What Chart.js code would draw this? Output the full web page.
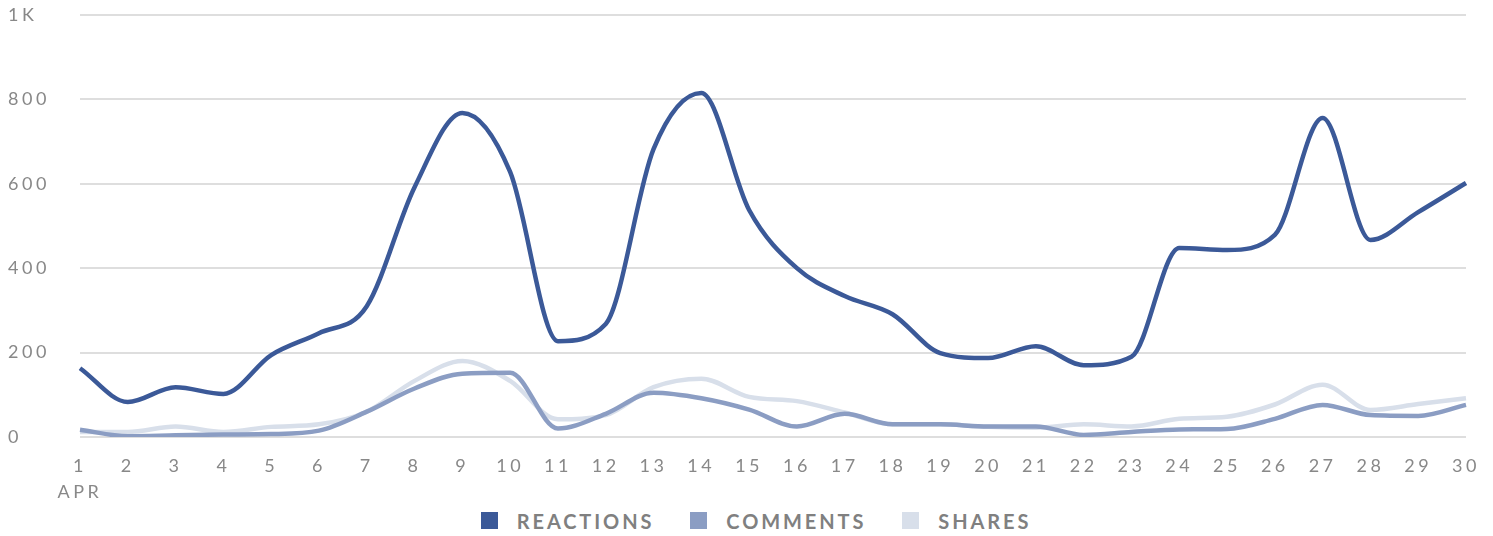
<!DOCTYPE html>
<html>
<head>
<meta charset="utf-8">
<script src="https://cdn.jsdelivr.net/npm/chart.js@4"></script>
<style>
  html, body { margin: 0; padding: 0; background: #fff; }
  #wrap { width: 1493px; height: 505px; position: relative; }
  #legend {
    display: flex; justify-content: center; align-items: center;
    height: 31px; padding-left: 19px; box-sizing: border-box;
    font-family: Lato, sans-serif; font-weight: bold; font-size: 20px;
    letter-spacing: 2.9px; color: #808080;
  }
  #legend .item { display: flex; align-items: center; margin: 0 18px; }
  #legend .box { width: 17px; height: 17px; margin-right: 19px; }
</style>
</head>
<body>
<div id="wrap"><canvas id="chart"></canvas></div>
<div id="legend"></div>
<script>
const days = ['1','2','3','4','5','6','7','8','9','10','11','12','13','14','15','16','17','18','19','20','21','22','23','24','25','26','27','28','29','30'];
const reactions = [163, 83, 118, 102, 194, 246, 310, 592, 768, 628, 227, 268, 682, 815, 538, 400, 334, 291, 199, 187, 215, 170, 190, 448, 443, 479, 756, 467, 533, 602];
const comments = [17, 2, 4, 6, 7, 15, 60, 115, 150, 152, 20, 55, 105, 92, 65, 25, 55, 30, 30, 25, 25, 5, 12, 18, 19, 43, 76, 52, 50, 76];
const shares = [12, 12, 25, 12, 24, 30, 60, 133, 180, 133, 42, 52, 118, 138, 95, 85, 58, 30, 30, 24, 22, 30, 25, 43, 48, 77, 124, 64, 78, 92];

// spaced-out letters like the original
const spacing = {
  id: 'spacing',
  beforeLayout(chart) { chart.ctx.letterSpacing = '3.5px'; },
  beforeDraw(chart) { chart.ctx.letterSpacing = '3.5px'; }
};

// legend as html under the canvas
const htmlLegend = {
  id: 'htmlLegend',
  afterUpdate(chart) {
    const el = document.getElementById('legend');
    el.innerHTML = '';
    chart.options.plugins.legend.labels.generateLabels(chart).forEach(item => {
      const div = document.createElement('div');
      div.className = 'item';
      const box = document.createElement('span');
      box.className = 'box';
      box.style.background = item.fillStyle;
      const txt = document.createElement('span');
      txt.textContent = item.text;
      div.appendChild(box);
      div.appendChild(txt);
      el.appendChild(div);
    });
  }
};

const ctx = document.getElementById('chart').getContext('2d');

new Chart(ctx, {
  type: 'line',
  data: {
    labels: days.map((d, i) => i === 0 ? [d, 'APR'] : d),
    datasets: [
      { label: 'REACTIONS', data: reactions, borderColor: '#3b5998', backgroundColor: '#3b5998' },
      { label: 'COMMENTS', data: comments, borderColor: '#8b9dc3', backgroundColor: '#8b9dc3' },
      { label: 'SHARES', data: shares, borderColor: '#d8dfea', backgroundColor: '#d8dfea' }
    ]
  },
  plugins: [spacing, htmlLegend],
  options: {
    responsive: true,
    maintainAspectRatio: false,
    animation: false,
    layout: { padding: { top: 15, right: 27, left: 8, bottom: 0 } },
    elements: {
      line: { borderWidth: 4.5, cubicInterpolationMode: 'monotone' },
      point: { radius: 0 }
    },
    scales: {
      x: {
        afterFit(scale) { scale.height = 68; },
        grid: { display: false },
        border: { display: false },
        ticks: {
          color: '#888',
          font: { family: 'Lato', size: 18, lineHeight: 1.45 },
          maxRotation: 0,
          autoSkip: false,
          padding: 8
        }
      },
      y: {
        min: 0,
        max: 1000,
        afterFit(scale) { scale.width = 72; },
        grid: { color: '#dedede', lineWidth: 2, drawTicks: false },
        border: { display: false },
        ticks: {
          stepSize: 200,
          crossAlign: 'far',
          padding: 0,
          color: '#888',
          font: { family: 'Lato', size: 18 },
          callback: v => v === 1000 ? '1K' : v
        }
      }
    },
    plugins: {
      tooltip: { enabled: false },
      legend: { display: false }
    }
  }
});
</script>
</body>
</html>
